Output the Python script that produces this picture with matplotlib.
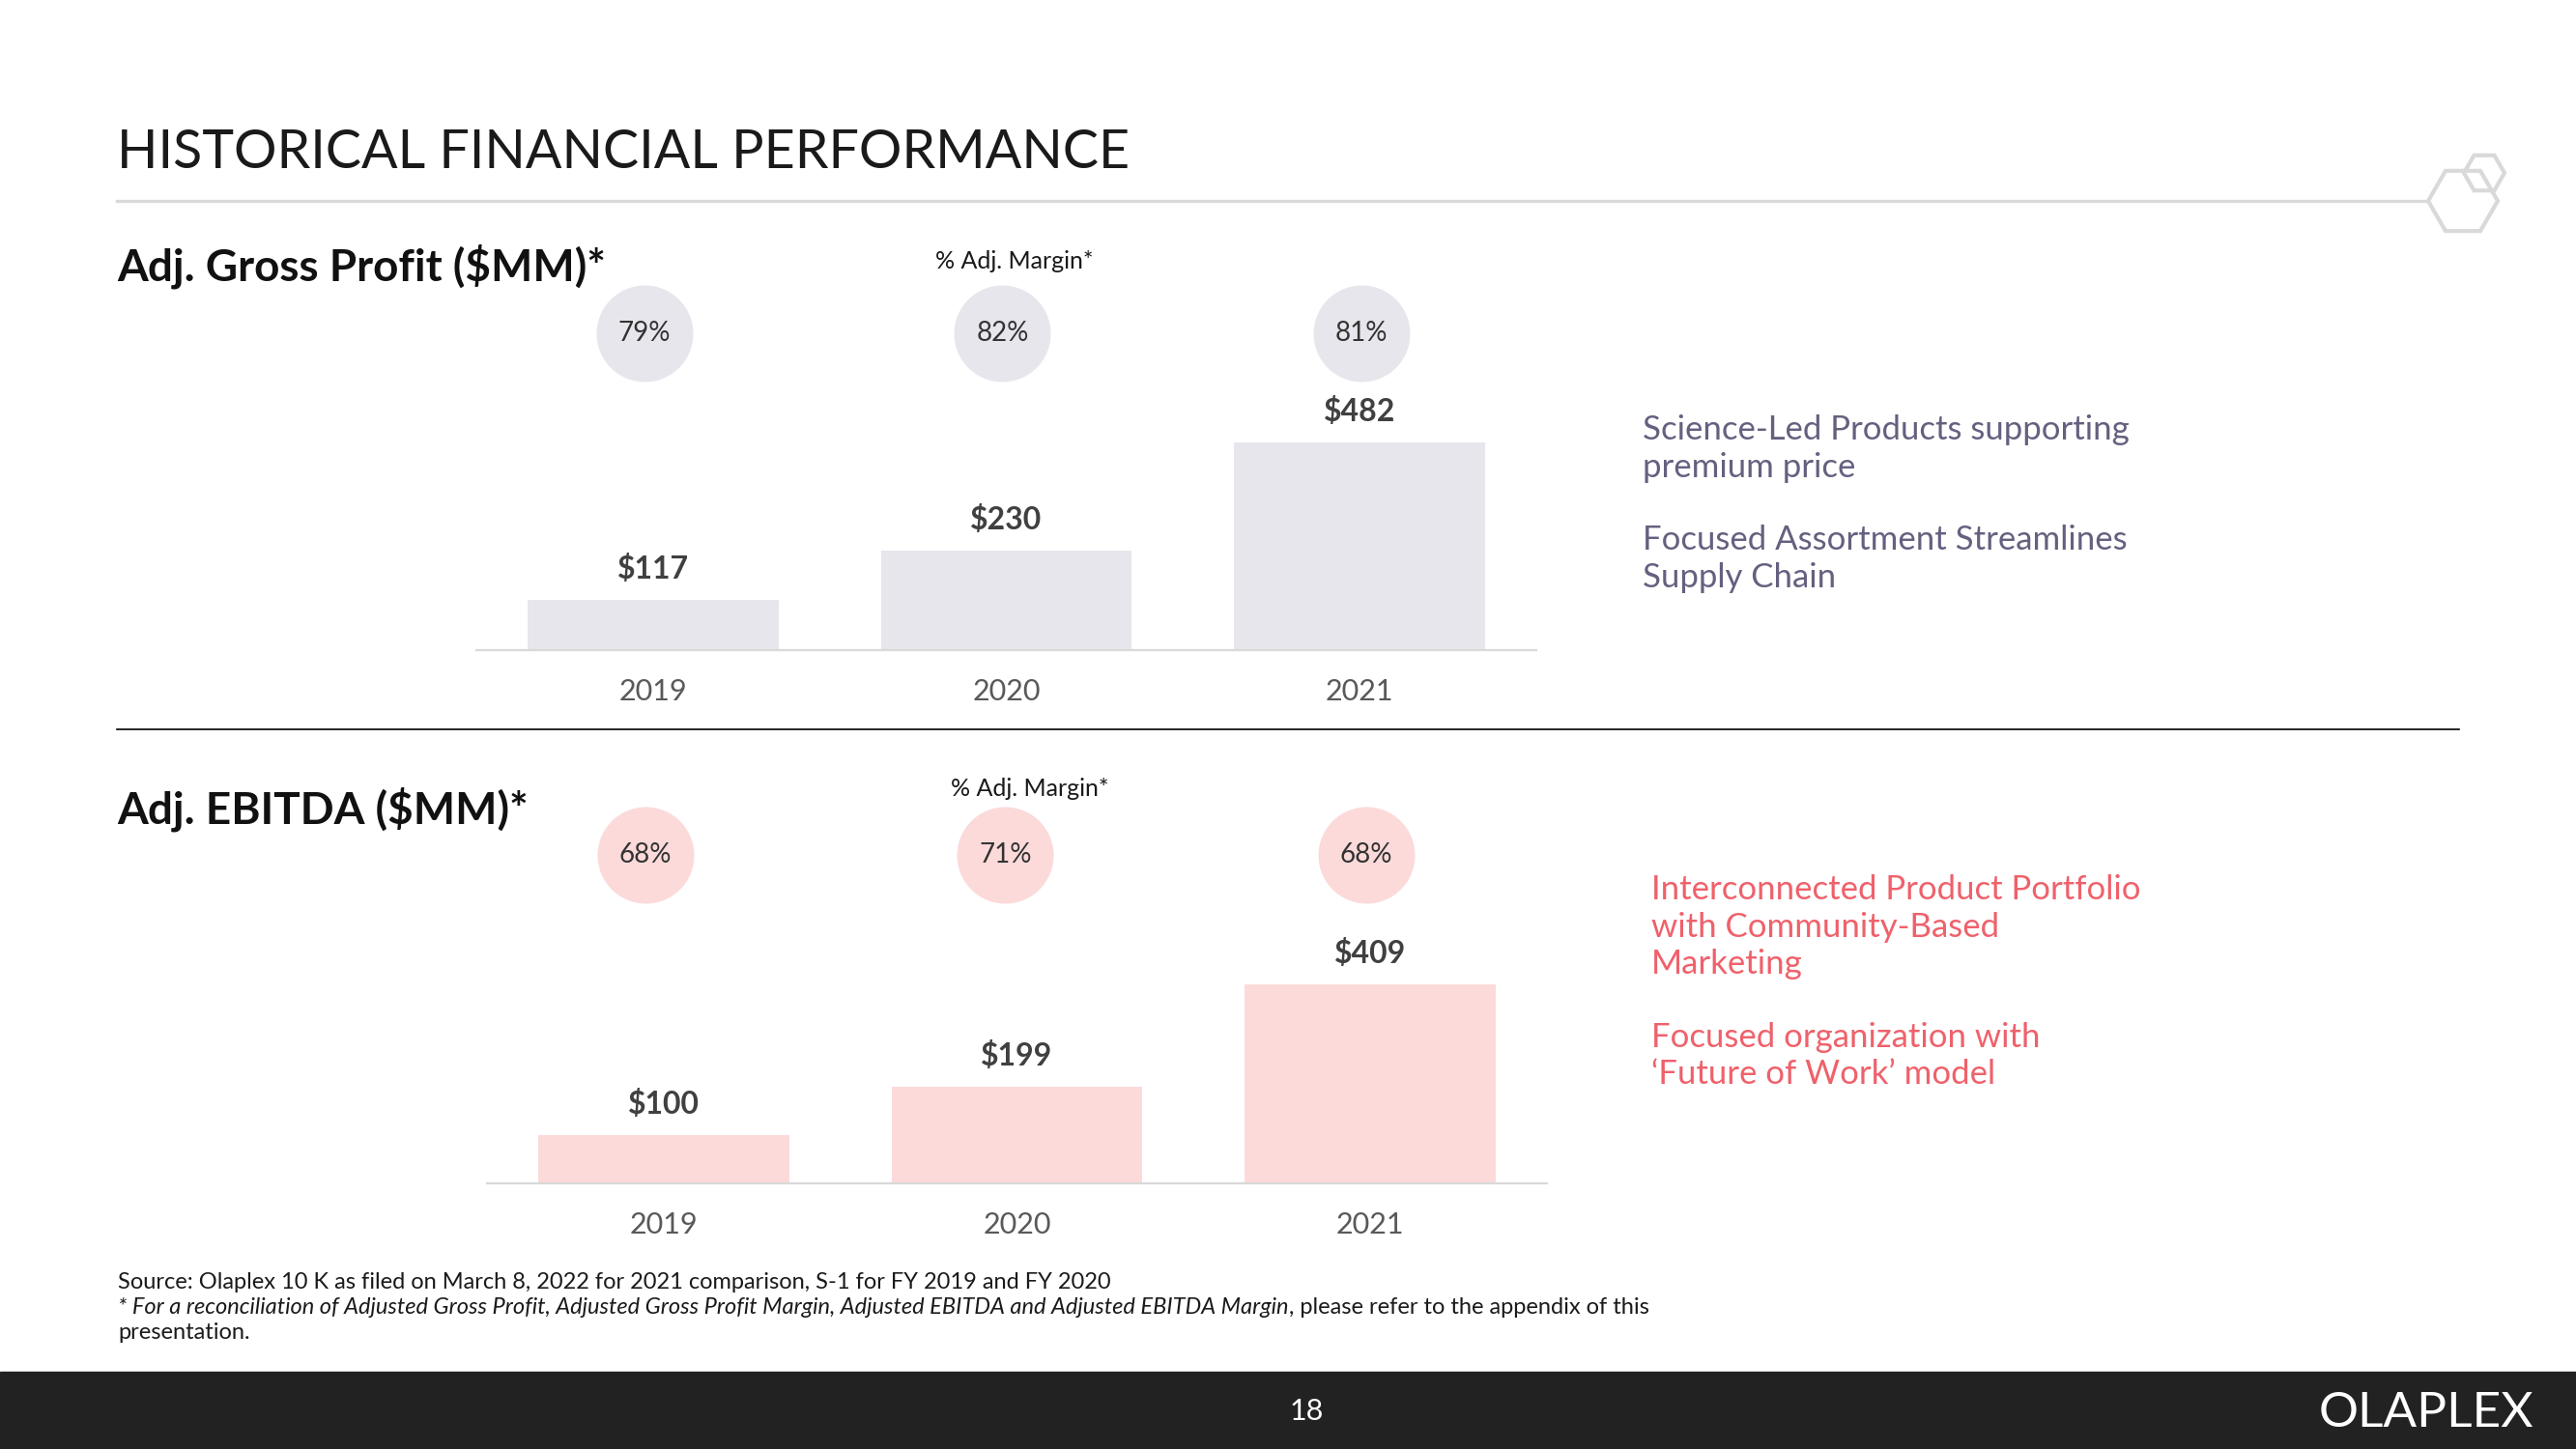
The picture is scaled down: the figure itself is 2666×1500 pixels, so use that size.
import matplotlib
matplotlib.use("Agg")
import matplotlib.pyplot as plt
import matplotlib.transforms as mtransforms
from matplotlib.patches import Polygon, Rectangle
from matplotlib.lines import Line2D
import numpy as np

# data
years = ["2019", "2020", "2021"]
gross_profit = [117, 230, 482]
gross_margin = [79, 82, 81]
ebitda = [100, 199, 409]
ebitda_margin = [68, 71, 68]

top_notes = [["Science-Led Products supporting", "premium price"],
             ["Focused Assortment Streamlines", "Supply Chain"]]
bottom_notes = [["Interconnected Product Portfolio", "with Community-Based", "Marketing"],
                ["Focused organization with", "\u2018Future of Work\u2019 model"]]

W, H = 2666, 1500
plt.rcParams['font.family'] = ['Lato', 'DejaVu Sans']

fig = plt.figure(figsize=(W / 100, H / 100), dpi=100)
fig.patch.set_facecolor("white")


def fx(px):
    return px / W


def fy(py):
    return 1 - py / H


# title + grey rule + hexagon logo
fig.text(fx(121), fy(158), "HISTORICAL FINANCIAL PERFORMANCE", fontsize=40,
         color='#1a1a1a', va='center')
fig.add_artist(Line2D([fx(121), fx(2513)], [fy(208), fy(208)], color='#d9d9d9', lw=2.4))


def hexagon(cx, cy, r):
    ang = np.radians(np.arange(0, 360, 60))
    pts = [(fx(cx + r * np.cos(a)), fy(cy + r * np.sin(a))) for a in ang]
    return Polygon(pts, closed=True, fill=False, edgecolor='#d9d9d9', lw=3,
                   transform=fig.transFigure, joinstyle='miter')


fig.add_artist(hexagon(2549, 208, 36))
fig.add_artist(hexagon(2571, 179, 21))

# black separator
fig.add_artist(Line2D([fx(121), fx(2545)], [fy(755), fy(755)], color='black', lw=1.2))

# section titles
fig.text(fx(121), fy(276), "Adj. Gross Profit ($MM)*", fontsize=33, weight='bold',
         color='#111111', va='center')
fig.text(fx(121), fy(838), "Adj. EBITDA ($MM)*", fontsize=33, weight='bold',
         color='#111111', va='center')
fig.text(fx(1050), fy(270), "% Adj. Margin*", fontsize=18,
         color='#1a1a1a', ha='center', va='center')
fig.text(fx(1066), fy(817), "% Adj. Margin*", fontsize=18,
         color='#1a1a1a', ha='center', va='center')

STEP = 365.6  # pixels between bar centres


def bar_panel(left, base, px_per_unit, vals, pcts, bar_col, circ_y, circ_dx):
    ax = fig.add_axes([fx(left), fy(base), 3 * STEP / W, 373 / H])
    x = np.arange(len(vals))
    ax.bar(x, vals, width=0.71, color=bar_col, zorder=2)
    ax.set_xlim(-0.5, 2.5)
    ax.set_ylim(0, 373 / px_per_unit)
    for s in ['left', 'right', 'top']:
        ax.spines[s].set_visible(False)
    ax.spines['bottom'].set_color('#d9d9d9')
    ax.spines['bottom'].set_linewidth(1.6)
    ax.set_yticks([])
    ax.set_xticks(x, years)
    ax.tick_params(axis='x', length=0, pad=21, labelsize=22, labelcolor='#595959')
    ax.patch.set_alpha(0)
    for i, v in enumerate(vals):
        ax.annotate(f"${v}", (i, v), xytext=(0, 23), textcoords='offset points',
                    ha='center', va='center', fontsize=23, weight='bold', color='#404040')
    blend = mtransforms.blended_transform_factory(ax.transData, fig.transFigure)
    cx = x + np.array(circ_dx) / STEP
    ax.scatter(cx, [fy(circ_y)] * len(x), s=72 ** 2, color=bar_col, linewidths=0,
               transform=blend, clip_on=False, zorder=3)
    for c, p in zip(cx, pcts):
        ax.text(c, fy(circ_y), f"{p}%", transform=blend, ha='center', va='center',
                fontsize=20, color='#333333', zorder=4)
    return ax


bar_panel(493, 673, 0.446, gross_profit, gross_margin, '#e7e6ec', 345, [-9, -4, 2])
bar_panel(504, 1225, 0.503, ebitda, ebitda_margin, '#fcdada', 885, [-19, -12, -4])

# side notes
def notes(x, y0, paras, color):
    y = y0
    for para in paras:
        for line in para:
            fig.text(fx(x), fy(y), line, fontsize=25, color=color, va='center')
            y += 38.5
        y += 37
    return y


notes(1700, 445, top_notes, '#65607f')
notes(1709, 921, bottom_notes, '#ef616b')

# footnotes
fs = 17
fig.text(fx(122), fy(1327), "Source: Olaplex 10 K as filed on March 8, 2022 for 2021 comparison, "
         "S-1 for FY 2019 and FY 2020", fontsize=fs, color='#1a1a1a', va='center')
t_it = fig.text(fx(122), fy(1353), "* For a reconciliation of Adjusted Gross Profit, Adjusted Gross "
                "Profit Margin, Adjusted EBITDA and Adjusted EBITDA Margin", fontsize=fs,
                style='italic', color='#1a1a1a', va='center')
renderer = fig.canvas.get_renderer()
bb = t_it.get_window_extent(renderer=renderer)
fig.text(bb.x1 / W, fy(1353), ", please refer to the appendix of this", fontsize=fs,
         color='#1a1a1a', va='center')
fig.text(fx(122), fy(1380), "presentation.", fontsize=fs, color='#1a1a1a', va='center')

# footer bar
fig.add_artist(Rectangle((0, 0), 1, fy(1420), transform=fig.transFigure,
                         color='#222222', zorder=0))
fig.text(fx(1352), fy(1461), "18", fontsize=22, color='white',
         ha='center', va='center')
fig.text(fx(2622), fy(1463), "OLAPLEX", fontsize=37, color='white',
         ha='right', va='center')

fig.savefig("out.png", dpi=100, facecolor='white')
